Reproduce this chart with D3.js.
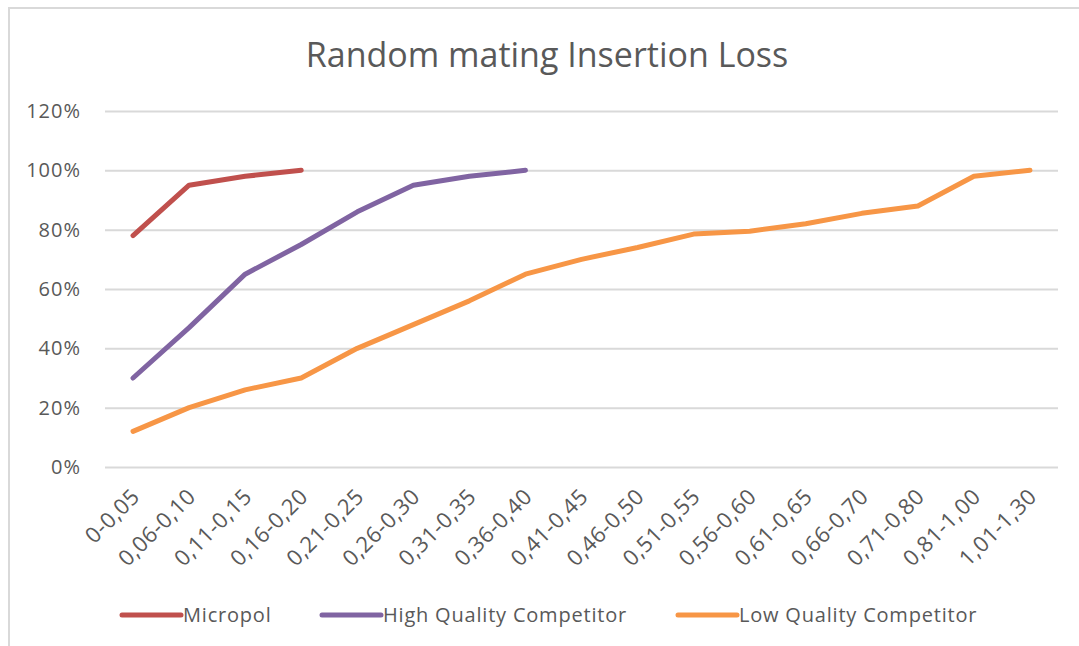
<!DOCTYPE html>
<html>
<head>
<meta charset="utf-8">
<script src="https://cdn.jsdelivr.net/npm/d3@7"></script>
<style>
  body { margin: 0; background: #fff; }
  svg text { font-family: "Open Sans", sans-serif; fill: #595959; }
</style>
</head>
<body>
<div id="chart"></div>
<script>
// categories and series
const categories = ["0-0,05", "0,06-0,10", "0,11-0,15", "0,16-0,20", "0,21-0,25", "0,26-0,30",
  "0,31-0,35", "0,36-0,40", "0,41-0,45", "0,46-0,50", "0,51-0,55", "0,56-0,60",
  "0,61-0,65", "0,66-0,70", "0,71-0,80", "0,81-1,00", "1,01-1,30"];
const micropol = [0.78, 0.95, 0.98, 1.00];
const highQuality = [0.30, 0.47, 0.65, 0.75, 0.86, 0.95, 0.98, 1.00];
const lowQuality = [0.12, 0.20, 0.26, 0.30, 0.40, 0.48, 0.56, 0.65, 0.70, 0.74, 0.785,
  0.795, 0.82, 0.855, 0.88, 0.98, 1.00];
const yTicks = [0, 0.2, 0.4, 0.6, 0.8, 1.0, 1.2];

const series = [
  {name: "Micropol", values: micropol, color: "#c0504d"},
  {name: "High Quality Competitor", values: highQuality, color: "#8064a2"},
  {name: "Low Quality Competitor", values: lowQuality, color: "#f79646"}
];

let width = 1079, height = 646;
let margin = {top: 111, right: 21, bottom: 179, left: 105};

let svg = d3.select("#chart")
  .append("svg")
  .attr("width", width)
  .attr("height", height);

// outer chart frame (right and bottom edges fall outside the window)
svg.append("rect")
  .attr("x", 9).attr("y", 8)
  .attr("width", 1100).attr("height", 700)
  .attr("fill", "none")
  .attr("stroke", "#d9d9d9")
  .attr("stroke-width", 2);

svg.append("text")
  .attr("x", 547)
  .attr("y", 67)
  .attr("text-anchor", "middle")
  .style("font-size", "34px")
  .text("Random mating Insertion Loss");

let x = d3.scaleBand()
  .domain(categories)
  .range([margin.left, width - margin.right]);

let y = d3.scaleLinear()
  .domain([0, 1.2])
  .range([height - margin.bottom, margin.top]);

// gridlines + y labels
let yAxis = svg.append("g")
  .attr("transform", "translate(" + margin.left + ",0)")
  .call(d3.axisLeft(y)
    .tickValues(yTicks)
    .tickSize(-(width - margin.left - margin.right))
    .tickPadding(24)
    .tickFormat(d3.format(".0%")));
yAxis.select(".domain").remove();
yAxis.selectAll("line").attr("stroke", "#d9d9d9").attr("stroke-width", 2);
yAxis.selectAll("text")
  .style("font-size", "20px")
  .style("letter-spacing", "1px")
  .style("font-family", "Open Sans")
  .attr("fill", "#595959");

// x labels
let xAxis = svg.append("g")
  .attr("transform", "translate(0," + (height - margin.bottom) + ")")
  .call(d3.axisBottom(x).tickSize(0).tickPadding(0));
xAxis.select(".domain").remove();
xAxis.selectAll("text")
  .style("font-size", "22px")
  .style("letter-spacing", "0.5px")
  .style("font-family", "Open Sans")
  .attr("fill", "#595959")
  .attr("text-anchor", "end")
  .attr("dy", 0)
  .attr("transform", "translate(8,31) rotate(-45)");

let line = d3.line()
  .x(function(d, i) { return x(categories[i]) + x.bandwidth() / 2; })
  .y(function(d) { return y(d); });

svg.selectAll(".series")
  .data(series)
  .enter()
  .append("path")
  .attr("class", "series")
  .attr("d", function(d) { return line(d.values); })
  .attr("fill", "none")
  .attr("stroke", function(d) { return d.color; })
  .attr("stroke-width", 5)
  .attr("stroke-linecap", "round")
  .attr("stroke-linejoin", "round");

// legend
const legendX = [122, 322, 678];
let legend = svg.selectAll(".legend")
  .data(series)
  .enter()
  .append("g")
  .attr("class", "legend")
  .attr("transform", function(d, i) { return "translate(" + legendX[i] + ",615)"; });

legend.append("line")
  .attr("x1", 0).attr("x2", 59)
  .attr("stroke", function(d) { return d.color; })
  .attr("stroke-width", 5)
  .attr("stroke-linecap", "round");

legend.append("text")
  .attr("x", 61)
  .attr("dy", "0.35em")
  .style("font-size", "20px")
  .style("letter-spacing", "0.8px")
  .text(function(d) { return d.name; });
</script>
</body>
</html>
